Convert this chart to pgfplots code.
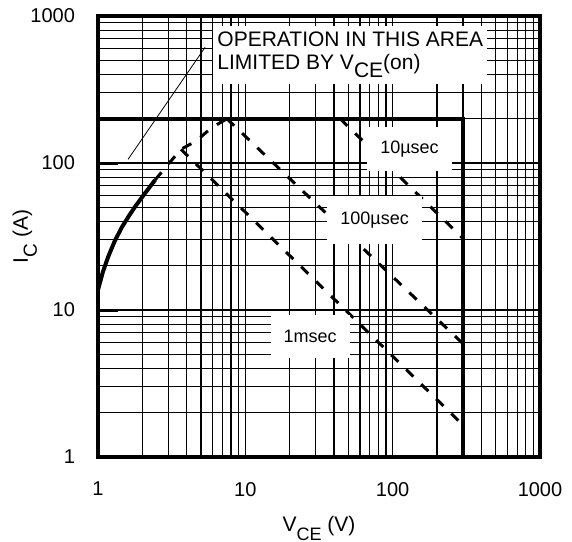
\documentclass[border=0pt]{standalone}
\usepackage{fontspec}
\setmainfont{Liberation Sans}
\usepackage{pgfplots}
\pgfplotsset{compat=1.18}

\tikzset{dsh/.style={line width=1.5pt, dash pattern=on 5pt off 5.5pt}}

\begin{document}
\begin{tikzpicture}
% page size: 572 x 541 px at 0.5pt per px
\useasboundingbox (-49pt,-42pt) rectangle (237pt,228.5pt);
\begin{loglogaxis}[
    scale only axis,
    width=221pt, height=220.5pt,
    xmin=1, xmax=1000, ymin=1, ymax=1000,
    xtick={1,10,100,1000}, xticklabels={1,10,100,1000},
    ytick={1,10,100,1000}, yticklabels={1,10,100,1000},
    minor xtick={2,3,4,5,6,7,8,9,20,30,40,50,60,70,80,90,200,300,400,500,600,700,800,900},
    minor ytick={2,3,4,5,6,7,8,9,20,30,40,50,60,70,80,90,200,300,400,500,600,700,800,900},
    grid=both,
    major grid style={black, line width=0.6pt},
    minor grid style={black, line width=0.6pt},
    axis line style={line width=2pt},
    tick align=inside,
    major tick length=10pt, minor tick length=0pt,
    xtick style={draw=none},
    ytick style={line width=1.5pt, black},
    ytick pos=left,
    /pgf/number format/assume math mode=true,
    tick label style={font=\fontsize{10}{12}\selectfont},
    xticklabel style={yshift=-9pt},
    yticklabel style={xshift=-8pt},
    label style={font=\fontsize{10.5}{12}\selectfont},
    xlabel={V\raisebox{-4.5pt}{\fontsize{9}{9}\selectfont CE} (V)},
    ylabel={I\raisebox{-4.5pt}{\fontsize{9.5}{9.5}\selectfont C} (A)},
    xlabel style={at={(axis description cs:0.5,-0.168)}, anchor=base},
    ylabel style={at={(axis description cs:-0.1585,0.5)}, anchor=base},
    no markers,
]
% SOA boundary (200 A, 300 V)
\addplot[line width=2pt] coordinates {(1,200) (300,200) (300,1)};
% VCE(on) limit
\addplot[line width=2pt] coordinates {(1,13.7) (1.08,18.2) (1.17,22.9) (1.3,29.5) (1.455,36.7) (1.62,43.6) (1.78,50.2) (2.09,62.5) (2.44,76.6)};
\addplot[dsh] coordinates {(2.44,76.6) (2.85,92.5) (3.66,124) (4.63,141) (5.91,174) (7.5,200)};
% pulse lines
\addplot[dsh] coordinates {(3.66,124) (300,1.65)};
\addplot[dsh] coordinates {(7.5,200) (300,5.9)};
\addplot[dsh] coordinates {(44,200) (300,30.7)};
% pointer
\addplot[line width=0.4pt] coordinates {(1.6,106) (5.33,612)};

\node[fill=white, anchor=north west, align=left, inner xsep=2pt, inner ysep=3pt,
      font=\fontsize{10.5}{11.5}\selectfont] at (axis cs:6.04,864)
      {OPERATION IN THIS AREA\\LIMITED BY V\raisebox{-4pt}{CE}(on)};
\node[fill=white, inner xsep=6.5pt, inner ysep=7pt, font=\fontsize{9}{10}\selectfont]
      at (axis cs:130,125) {10µsec};
\node[fill=white, inner xsep=6.5pt, inner ysep=8pt, font=\fontsize{9}{10}\selectfont]
      at (axis cs:75.4,40.9) {100µsec};
\node[fill=white, inner xsep=6.5pt, inner ysep=7.5pt, font=\fontsize{9}{10}\selectfont]
      at (axis cs:27.5,6.6) {1msec};
\end{loglogaxis}
\end{tikzpicture}
\end{document}
